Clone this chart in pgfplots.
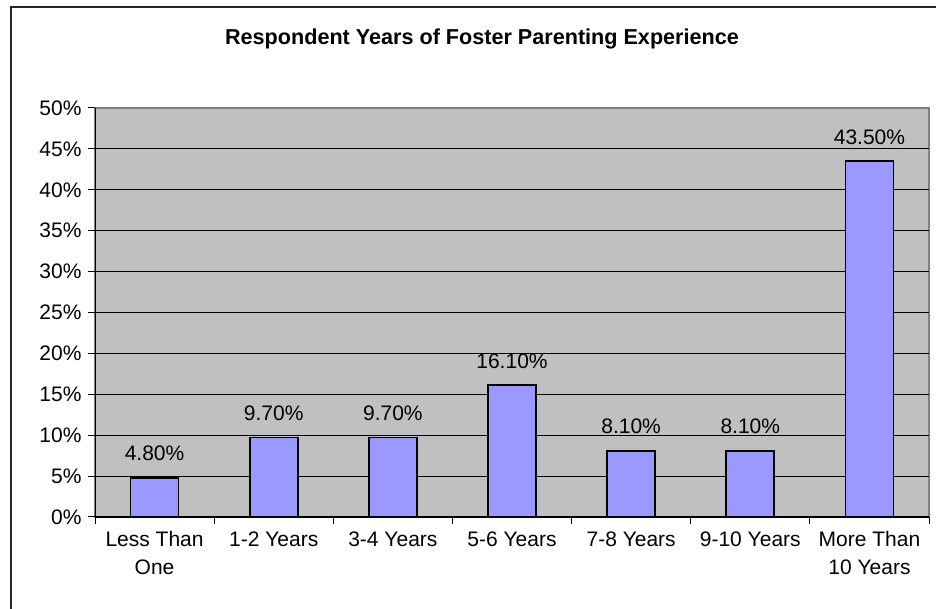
\documentclass[border=0pt]{standalone}
\usepackage{pgfplots}
\pgfplotsset{compat=1.18}
\usepackage{fontspec}
\setmainfont{Liberation Sans}
\definecolor{plotgray}{HTML}{C0C0C0}
\definecolor{barblue}{HTML}{9999FF}
\definecolor{framegray}{HTML}{808080}
\begin{document}
\begin{tikzpicture}[x=1pt,y=1pt]
\path[use as bounding box] (0,0) rectangle (936,609);
\draw[line width=1.5pt, black!85] (11,-5) -- (11,602) -- (941,602);
\node[font=\fontsize{21.6}{25}\selectfont\bfseries, anchor=base] at (482,564) {Respondent Years of Foster Parenting Experience};
\begin{axis}[
  at={(95pt,92pt)}, anchor=south west,
  width=834pt, height=409pt, scale only axis,
  xmin=-0.5, xmax=6.5, ymin=0, ymax=50,
  /pgf/number format/assume math mode=true,
  axis x line*=bottom, axis y line*=left,
  axis line style={black, line width=1pt},
  axis background/.style={fill=plotgray, draw=framegray, line width=1.5pt},
  ytick={0,5,...,45},
  extra y ticks={50},
  extra y tick style={ymajorgrids=false},
  yticklabel={\pgfmathprintnumber{\tick}\%},
  xtick={0,...,6},
  xticklabels={Less Than\\One, 1-2 Years, 3-4 Years, 5-6 Years, 7-8 Years, 9-10 Years, More Than\\10 Years},
  minor xtick={-0.5,0.5,...,6.5},
  major x tick style={draw=none},
  tick align=outside,
  major tick length=7pt, minor tick length=7pt,
  tick style={black, line width=1pt},
  ymajorgrids, grid style={black, line width=0.8pt},
  ticklabel style={font=\fontsize{21}{28}\selectfont},
  xticklabel style={align=center, anchor=north, yshift=-4pt},
  yticklabel style={xshift=-3pt},
  ybar, bar width=48pt,
  nodes near coords={\pgfmathprintnumber[fixed,fixed zerofill,precision=2]{\pgfplotspointmeta}\%},
  every node near coord/.append style={font=\fontsize{21}{24}\selectfont, anchor=south, inner sep=0pt, yshift=16pt, black},
  clip=false,
]
\addplot[fill=barblue, draw=black, line width=1.6pt] table {
x y
0 4.8
1 9.7
2 9.7
3 16.1
4 8.1
5 8.1
6 43.5
};
\end{axis}
\end{tikzpicture}
\end{document}
